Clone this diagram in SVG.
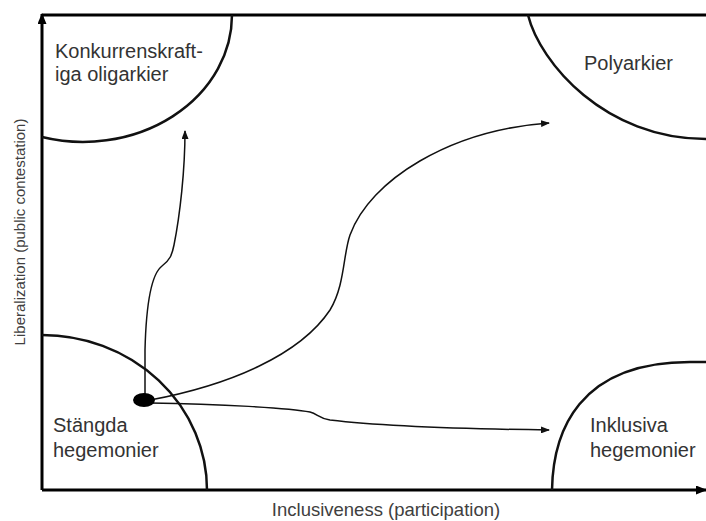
<svg xmlns="http://www.w3.org/2000/svg" width="706" height="521" viewBox="0 0 706 521">
<style>
.lbl{font-family:"Liberation Sans",Arial,sans-serif;font-size:20px;fill:#333}
.ax{font-family:"Liberation Sans",Arial,sans-serif;fill:#404040}
.region{fill:none;stroke:#111;stroke-width:2.5}
.frame{fill:none;stroke:#000;stroke-width:3}
.conn{fill:none;stroke:#111;stroke-width:1.5}
</style>
<defs>
<marker id="ah" markerUnits="userSpaceOnUse" markerWidth="9" markerHeight="7" refX="8" refY="3.5" orient="auto">
<path d="M0,0 L9,3.5 L0,7 z" fill="#111"/>
</marker>
<marker id="axh" markerUnits="userSpaceOnUse" markerWidth="11" markerHeight="9" refX="10" refY="4.5" orient="auto">
<path d="M0,0 L11,4.5 L0,9 z" fill="#000"/>
</marker>
</defs>
<rect width="706" height="521" fill="#fff"/>
<g id="axes">
<line class="frame" x1="42" y1="15" x2="706" y2="15"/>
<line class="frame" x1="42" y1="490" x2="42" y2="14" marker-end="url(#axh)"/>
<line class="frame" x1="42" y1="490" x2="706" y2="490" marker-end="url(#axh)"/>
<text class="ax" font-size="18.5" x="386" y="516" text-anchor="middle">Inclusiveness (participation)</text>
<text class="ax" font-size="15" transform="translate(25,232) rotate(-90)" text-anchor="middle">Liberalization (public contestation)</text>
</g>
<g id="konkurrenskraftiga">
<path class="region" d="M232,15 A149 127 0 0 1 42,137"/>
<text class="lbl" x="55" y="58">Konkurrenskraft-</text>
<text class="lbl" x="55" y="81">iga oligarkier</text>
</g>
<g id="polyarkier">
<path class="region" d="M528,15 C540,63 605,139 706,139"/>
<text class="lbl" x="584" y="70" font-size="21.5">Polyarkier</text>
</g>
<g id="stangda">
<path class="region" d="M42,335 A165 155 0 0 1 207,490"/>
<text class="lbl" x="53" y="432">Stängda</text>
<text class="lbl" x="53" y="457">hegemonier</text>
</g>
<g id="inklusiva">
<path class="region" d="M552,490 C553,432 578,362 690,362 L706,362"/>
<text class="lbl" x="590" y="432">Inklusiva</text>
<text class="lbl" x="590" y="457">hegemonier</text>
</g>
<g id="connectors">
<path class="conn" d="M145,400 L145,350 C146,310 150,275 162,266 C170,260 172,255 174,245 C180,215 185,170 185,131" marker-end="url(#ah)"/>
<path class="conn" d="M150,400 C230,385 300,355 330,310 C345,285 343,255 350,235 C370,180 450,130 549,123" marker-end="url(#ah)"/>
<path class="conn" d="M150,403 C220,404 290,408 310,412 C318,414 318,418 330,420 C380,426 470,429 549,430" marker-end="url(#ah)"/>
</g>
<g id="start">
<ellipse cx="144" cy="400" rx="11" ry="7" fill="#000"/>
</g>
</svg>
